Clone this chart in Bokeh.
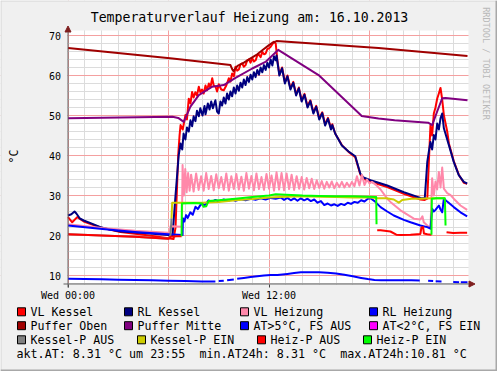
import math
from bokeh.plotting import figure
from bokeh.models import Range1d, FixedTicker, Label, BoxAnnotation, Arrow, NormalHead
from bokeh.embed import file_html
from bokeh.resources import INLINE

nan = float("nan")

# ---------------- data (hours since 00:00, degrees C) ----------------
title_text = "Temperaturverlauf Heizung am: 16.10.2013"
y_label = "°C"
x_tick_values = [0, 12]
x_tick_labels = ["Wed 00:00", "Wed 12:00"]
y_tick_values = [10, 20, 30, 40, 50, 60, 70]

vl_kessel_t = [0, 0.25, 0.55, 0.94, 1.94, 3.13, 4.5, 6.0, 6.3, 6.42, 6.58, 6.66, 6.72, 6.85, 7.01, 7.10, 7.21, 7.31, 7.41, 7.50,
               7.60, 7.70, 7.81, 7.90, 8.00, 8.10, 8.21, 8.30, 8.41, 8.50, 8.61, 8.70, 8.81, 8.90, 9.00, 9.15, 9.30, 9.45, 9.60, 9.70,
               9.80, 9.90, 10.00, 10.10, 10.20, 10.30, 10.40, 10.50, 10.60, 10.70, 10.80, 10.90, 11.00, 11.10, 11.20, 11.30, 11.40, 11.50, 11.60, 11.70,
               11.80, 11.90, 12.00, 12.10, 12.20, 12.29, 12.40, 12.45, 12.50, 12.62, 12.78, 12.95, 13.10, 13.28, 13.45, 13.62, 13.78, 13.95, 14.12, 14.30,
               14.47, 14.65, 14.82, 15.00, 15.18, 15.35, 15.52, 15.70, 15.78, 15.95, 16.35, 16.75, 17.15, 17.45, 17.64, 18.06, 18.54, 19.06, 20.05, 21.04,
               21.30, 21.45, 21.54, 21.64, 21.74, 21.84, 21.94, 22.04, 22.14, 22.24, 22.34, 22.44, 22.64, 22.74, 23.03, 23.33, 23.63, 23.83]
vl_kessel_v = [24.6, 23.3, 24.6, 23.5, 22.0, 20.9, 20.2, 19.3, 19.1, 22.0, 40.1, 45.0, 47.6, 46.5, 50.1, 49.0, 54.2, 53.0, 55.9, 54.5,
               55.8, 55.0, 57.2, 55.8, 56.5, 55.5, 57.5, 56.3, 58.0, 57.0, 59.3, 57.5, 57.2, 56.0, 57.8, 56.5, 56.3, 57.5, 59.3, 58.5,
               60.5, 59.8, 62.2, 61.2, 61.5, 62.8, 63.0, 62.2, 62.6, 63.8, 64.0, 63.2, 64.3, 63.5, 63.8, 65.0, 65.2, 64.6, 65.9, 65.3,
               65.5, 66.6, 66.8, 67.2, 67.8, 68.4, 68.0, 66.0, 63.8, 60.3, 62.0, 58.3, 60.0, 56.8, 58.4, 55.3, 57.0, 53.8, 55.4, 52.3,
               53.8, 50.8, 52.4, 49.3, 50.8, 47.8, 49.4, 46.8, 47.8, 45.5, 42.6, 40.9, 39.6, 35.3, 34.2, 33.5, 32.8, 32.1, 30.4, 29.0,
               28.9, 29.2, 38.0, 47.5, 45.0, 50.5, 52.0, 54.2, 55.5, 56.9, 54.0, 50.1, 46.0, 43.0, 38.6, 35.2, 33.2, 32.9]

rl_kessel_t = [0, 0.2, 0.39, 0.5, 0.7, 0.94, 1.94, 2.5, 3.13, 4.5, 6.0, 6.24, 6.42, 6.61, 6.72,
               6.82, 6.90, 7.01, 7.10, 7.21, 7.31, 7.41, 7.50, 7.61, 7.70, 7.81, 7.90, 8.03, 8.15, 8.21, 8.35, 8.45, 8.55, 8.65, 8.80,
               8.90, 9.00, 9.10, 9.20, 9.30, 9.40, 9.50, 9.60, 9.70, 9.80, 9.90, 10.00, 10.10, 10.20, 10.30, 10.40, 10.50, 10.60, 10.70, 10.80,
               10.90, 11.00, 11.10, 11.20, 11.30, 11.40, 11.50, 11.60, 11.70, 11.80, 11.90, 12.00, 12.10, 12.20, 12.30, 12.40,
               12.45, 12.50, 12.62, 12.78, 12.95, 13.10, 13.28, 13.45, 13.62, 13.78, 13.95, 14.12, 14.30, 14.47, 14.65, 14.82, 15.00, 15.18,
               15.35, 15.52, 15.70, 15.78, 15.95, 16.35, 16.75, 17.15, 17.45, 17.64, 18.06, 18.54, 19.06, 20.05, 21.04, 21.30,
               21.45, 21.54, 21.64, 21.74, 21.84, 21.94, 22.04, 22.14, 22.24, 22.34, 22.44, 22.74, 23.03, 23.33, 23.63, 23.83]
rl_kessel_v = [25.0, 25.3, 26.0, 25.5, 24.3, 23.75, 22.1, 21.5, 21.0, 20.6, 20.1, 20.0, 30.1, 40.1, 43.0,
               41.5, 45.5, 44.0, 47.0, 46.0, 48.8, 47.3, 49.8, 48.6, 51.2, 49.8, 51.8, 50.0, 52.4, 50.3, 53.0, 51.5, 53.5, 51.8, 53.8,
               51.0, 50.5, 53.5, 52.5, 54.5, 53.0, 55.5, 54.0, 56.0, 54.8, 57.0, 55.5, 57.5, 56.2, 58.2, 57.0, 59.0, 57.6, 59.6, 58.4,
               60.2, 59.0, 60.8, 59.6, 61.4, 60.2, 62.0, 60.8, 62.6, 61.4, 63.2, 62.0, 64.0, 62.5, 64.8, 63.8,
               65.0, 63.5, 60.0, 61.8, 58.0, 59.8, 56.5, 58.2, 55.0, 56.8, 53.5, 55.2, 52.0, 53.6, 50.5, 52.2, 49.0, 50.6,
               47.5, 49.2, 46.5, 47.6, 45.5, 42.5, 41.0, 39.8, 35.5, 34.5, 33.8, 33.2, 32.5, 30.8, 29.4, 29.3,
               38.4, 40.9, 43.4, 41.5, 45.1, 44.0, 48.0, 46.5, 49.3, 50.5, 46.8, 42.6, 38.4, 35.1, 33.4, 33.0]

vl_heizung_t = [0, 2.0, 4.0, 6.0, 6.08, 6.12, 6.8, 6.84, 6.92, 7.0, 7.08, 7.17, 7.26,
                7.35, 7.50, 7.65, 7.80, 7.95, 8.10, 8.25, 8.40, 8.55, 8.70, 8.85, 9.00, 9.15, 9.30, 9.45, 9.60, 9.75, 9.90,
                10.05, 10.20, 10.35, 10.50, 10.65, 10.80, 10.95, 11.10, 11.25, 11.40, 11.55, 11.70, 11.85, 12.00, 12.15, 12.30,
                12.45, 12.60, 12.75, 12.90, 13.05, 13.20, 13.35, 13.50, 13.65, 13.80, 13.95, 14.10, 14.25, 14.40, 14.55, 14.70,
                14.85, 15.00, 15.15, 15.30, 15.45, 15.60, 15.75, 15.90, 16.05, 16.20, 16.35, 16.50, 16.65, 16.80, 16.95, 17.10,
                17.25, 17.40, 17.55, 17.70, 17.85, 18.00, 18.15,
                18.40, 18.66, 19.06, 19.25, 19.85, 20.65, 21.04, 21.16, 21.24, 21.45, 21.64, 21.74, 21.84, 21.94, 22.04, 22.14,
                22.24, 22.34, 22.44, 22.64, 22.84, 23.03, 23.43, 23.83]
vl_heizung_v = [22.8, 21.9, 21.2, 20.7, 20.6, 22.3, 22.2, 37.6, 30.0, 36.6, 30.8, 35.6, 31.2,
                35.2, 31.0, 35.5, 31.4, 34.8, 31.2, 35.6, 31.6, 34.9, 31.3, 35.3, 31.8, 34.6, 31.4, 35.5, 31.2, 34.8, 31.6,
                35.4, 31.5, 34.7, 31.2, 35.6, 31.7, 34.9, 31.3, 35.5, 31.6, 34.6, 31.4, 35.4, 31.7, 35.0, 31.2,
                35.8, 31.5, 35.6, 31.3, 35.5, 31.6, 35.2, 31.4, 34.8, 31.7, 34.6, 31.5, 34.4, 31.8, 34.2, 31.6,
                33.8, 31.9, 33.6, 31.7, 33.4, 32.0, 33.5, 31.8, 33.2, 32.1, 33.4, 32.0, 33.2, 32.2, 33.4, 32.3,
                34.8, 32.5, 35.2, 32.6, 34.0, 33.0, 33.4,
                32.6, 31.5, 29.2, 28.4, 26.3, 24.2, 24.0, 24.8, 23.3, 22.5, 21.8, 34.3, 30.0, 33.5, 31.5, 35.9,
                32.0, 37.0, 31.7, 30.6, 30.1, 29.2, 27.5, 26.4]

rl_heizung_t = [0, 2.06, 4.0, 6.0, 6.84, 6.86, 6.95, 7.05, 7.15, 7.3, 7.45, 7.61, 7.75, 7.9, 8.03, 8.15, 8.39, 8.6, 8.8, 9.0,
                9.3, 9.5, 9.8, 10.0, 10.3, 10.6, 10.9, 11.2, 11.5, 11.8, 12.1, 12.4, 12.7, 12.9, 13.1, 13.3, 13.5, 13.7, 13.9, 14.1,
                14.3, 14.5, 14.7, 14.9, 15.1, 15.3, 15.5, 15.7, 15.9, 16.1, 16.3, 16.5, 16.7, 16.9, 17.1, 17.3, 17.5, 17.7, 17.9, 18.06,
                18.3, 18.66, 19.06, 19.45, 20.05, 20.45, 21.04, 21.45, 21.64, 21.74, 21.84, 21.94, 22.14, 22.24, 22.34, 22.44, 22.6, 23.03, 23.43, 23.83]
rl_heizung_v = [22.5, 21.6, 20.9, 20.3, 20.1, 24.3, 23.5, 25.1, 24.4, 25.8, 25.2, 27.2, 26.6, 27.6, 28.0, 27.5, 28.8, 28.4, 28.9, 28.5,
                29.0, 28.6, 29.0, 28.7, 29.1, 28.8, 29.2, 28.9, 29.3, 29.0, 29.4, 29.2, 29.5, 28.9, 29.4, 28.8, 29.3, 28.7, 29.3, 28.8,
                29.2, 28.6, 29.0, 28.2, 28.6, 27.6, 28.0, 27.5, 27.8, 27.4, 27.9, 27.6, 28.2, 27.9, 28.4, 28.2, 28.8, 28.5, 29.2, 29.3,
                28.6, 27.1, 26.0, 25.0, 23.9, 23.3, 22.5, 22.1, 21.7, 26.7, 26.0, 26.4, 27.5, 26.5, 25.8, 29.2, 28.6, 27.1, 25.8, 24.8]

puffer_oben_t = [0, 6.24, 9.70, 9.80, 9.88, 10.0, 10.12, 10.5, 10.9, 11.3, 11.6, 12.0, 12.2, 12.45, 18.54, 23.85]
puffer_oben_v = [66.9, 64.25, 62.6, 61.6, 61.1, 61.8, 62.4, 63.2, 64.3, 65.3, 66.3, 67.6, 68.2, 68.6, 66.9, 64.9]

puffer_mitte_t = [0, 6.24, 6.58, 6.91, 7.31, 7.81, 8.61, 9.30, 10.0, 11.0, 11.79, 12.39, 12.55, 14.96, 17.46, 17.52, 18.54, 19.5, 21.5, 21.74, 22.04, 22.34, 22.54, 23.85]
puffer_mitte_v = [49.3, 49.7, 49.4, 48.4, 52.2, 55.1, 57.2, 57.6, 59.4, 61.75, 63.4, 65.75, 66.4, 60.1, 50.2, 49.9, 49.25, 48.8, 48.2, 47.6, 51.0, 54.3, 54.4, 53.8]

at_t = [0, 1, 2, 3, 4, 5, 6, 7, 8, 8.8, 8.9, 9.0, 9.3, 9.4, 9.5, 9.9, 10.0, 10.1, 10.5, 10.9, 11.3, 11.7, 12.1, 12.5, 13.1, 13.5,
        13.9, 14.5, 15.0, 15.5, 16.0, 16.5, 17.0, 17.5, 17.9, 18.3, 18.7, 19.5, 20.5, 21.0, 21.2, 21.5, 21.8, 21.9, 21.95, 22.3, 22.6,
        23.0, 23.35, 23.4, 23.45, 23.85]
at_v = [9.2, 9.1, 9.05, 8.95, 8.9, 8.8, 8.7, 8.6, 8.5, 8.5, nan, 8.6, 8.7, nan, 8.8, 9.0, nan, 9.2, 9.4, 9.6, 9.8, 10.0, 10.1, 10.1, 10.4, 10.6,
        10.8, 10.8, 10.8, 10.7, 10.5, 10.2, 9.8, 9.4, 9.1, 8.9, 8.8, 8.8, 8.8, 8.75, nan, 8.7, 8.6, nan, 8.55, 8.5, nan,
        8.35, 8.3, nan, 8.3, 8.3]

kessel_p_aus_t = [0, 2.0, 4.0, 6.0, 6.12, 6.18]
kessel_p_aus_v = [20.3, 20.0, 19.7, 19.2, 20.1, 24.3]
kessel_p_ein_t = [6.18, 6.22, 7.0, 8.0, 9.0, 10.0, 11.0, 12.0, 13.0, 14.0, 15.0, 16.0, 17.0, 18.0, 18.5, 19.0, 19.45, 19.75, 19.95, 20.5, 21.0, 21.7, 22.5]
kessel_p_ein_v = [24.3, 28.2, 28.2, 28.2, 28.4, 28.8, 29.1, 29.5, 29.7, 29.8, 29.7, 29.6, 29.5, 29.5, 29.3, 29.3, 29.0, 28.2, 28.9, 29.2, 29.2, 29.3, 29.3]

heiz_p_aus_t = [0, 2.0, 4.0, 6.0, 6.12, 6.5, 6.78, 12.0, 18.46, 18.66, 19.25, 19.6, 19.85, 20.45, 21.04, 21.1, 21.2, 21.25, 21.45, 21.7, 22.0, 22.6, 23.0, 23.4, 23.83]
heiz_p_aus_v = [20.3, 20.0, 19.7, 19.2, 19.7, 19.8, 19.8, nan, 21.3, 21.3, 21.0, 20.2, 20.1, 20.2, 20.4, 22.0, 22.1, 20.5, 20.3, 20.2, nan, 20.8, 20.6, 20.7, 20.7]
heiz_p_ein_t = [6.78, 6.8, 7.5, 8.0, 8.09, 8.25, 8.39, 9.0, 10.0, 11.0, 12.0, 12.4, 13.0, 14.0, 15.0, 16.0, 17.0, 18.0, 18.4, 18.42, 20.0, 21.70, 21.72, 22.0, 22.5, 22.54]
heiz_p_ein_v = [19.8, 28.0, 28.1, 28.0, 27.2, 27.3, 28.6, 28.8, 29.2, 29.6, 30.0, 30.3, 30.2, 30.0, 29.9, 29.8, 29.8, 29.7, 29.6, 22.8, nan, 20.2, 29.2, 29.3, 29.3, 22.5]

legend_labels = ["VL Kessel", "RL Kessel", "VL Heizung", "RL Heizung",
                 "Puffer Oben", "Puffer Mitte", "AT>5°C, FS AUS", "AT<2°C, FS EIN",
                 "Kessel-P AUS", "Kessel-P EIN", "Heiz-P AUS", "Heiz-P EIN"]
legend_colors = ["#ff0000", "#000080", "#ff88aa", "#0000ff",
                 "#a00000", "#800080", "#0000ff", "#ff00ff",
                 "#808080", "#cccc00", "#ff0000", "#00ff00"]
akt_at = 8.31
akt_time = "23:55"
min_at24 = 8.31
max_at24 = 10.81

# ---------------- layout (pixel geometry of the image) ----------------
FONT = "DejaVu Sans Mono"
BG = "#f0f0f0"
W, H = 497, 371
PX_PER_H = 16.75        # pixels per hour
PX_PER_DEG = 4.0        # pixels per degree
T0_PX = 67.5            # page x of 00:00
V70_PY = 35.0           # page y of 70 degC
AREA_L, AREA_R, AREA_T, AREA_B = 67, 468, 30, 284   # graph area in page pixels
NB = "\u00a0"


def tx(px):
    return (px - T0_PX) / PX_PER_H


def vy(py):
    return 70.0 - (py - V70_PY) / PX_PER_DEG


def sx(px):
    return px


def sy(py):
    return H - py


p = figure(width=W, height=H, x_range=Range1d(tx(0), tx(W)), y_range=Range1d(vy(H), vy(0)),
           output_backend="svg", toolbar_location=None, title=None,
           min_border_left=0, min_border_right=0, min_border_top=0, min_border_bottom=0)
p.background_fill_color = "#ffffff"
p.border_fill_color = BG
p.outline_line_color = None

p.xgrid.ticker = FixedTicker(ticks=[0, 6, 12, 18], minor_ticks=list(range(0, 24)))
p.ygrid.ticker = FixedTicker(ticks=y_tick_values, minor_ticks=list(range(8, 72, 2)))
for g in (p.xgrid, p.ygrid):
    g.grid_line_color = "#f4a0a0"
    g.grid_line_width = 1
    g.minor_grid_line_color = "#dcdcdc"
    g.minor_grid_line_width = 1

# axes pinned to the graph area's edges
p.xaxis.fixed_location = vy(AREA_B)
p.yaxis.fixed_location = 0
p.xaxis.ticker = FixedTicker(ticks=x_tick_values, minor_ticks=[])
p.xaxis.major_label_overrides = {v: s for v, s in zip(x_tick_values, x_tick_labels)}
p.xaxis.axis_line_color = None
p.xaxis.major_tick_in = 0
p.xaxis.major_tick_out = 3
p.xaxis.major_tick_line_color = "#404040"
p.xaxis.minor_tick_line_color = None
p.xaxis.major_label_standoff = 2
p.yaxis.ticker = FixedTicker(ticks=y_tick_values, minor_ticks=[])
p.yaxis.axis_line_color = None
p.yaxis.major_tick_in = 0
p.yaxis.major_tick_out = 0
p.yaxis.major_tick_line_color = None
p.yaxis.minor_tick_line_color = None
p.yaxis.major_label_standoff = 7
for ax in (p.xaxis, p.yaxis):
    ax.major_label_text_font = FONT
    ax.major_label_text_font_size = "10px"
    ax.major_label_text_color = "#000000"

# grey surround outside the graph area (covers the grid there)
p.quad(left=[tx(0), tx(AREA_R), tx(0), tx(0)],
       right=[tx(AREA_L), tx(W), tx(W), tx(W)],
       bottom=[vy(H), vy(H), vy(AREA_T), vy(H)],
       top=[vy(0), vy(0), vy(0), vy(AREA_B)],
       fill_color=BG, line_color=None)

# ---------------- series (drawn in RRD order) ----------------
series = [
    (vl_kessel_t, vl_kessel_v, legend_colors[0]),
    (rl_kessel_t, rl_kessel_v, legend_colors[1]),
    (vl_heizung_t, vl_heizung_v, legend_colors[2]),
    (rl_heizung_t, rl_heizung_v, legend_colors[3]),
    (puffer_oben_t, puffer_oben_v, legend_colors[4]),
    (puffer_mitte_t, puffer_mitte_v, legend_colors[5]),
    (at_t, at_v, legend_colors[6]),
    (kessel_p_aus_t, kessel_p_aus_v, legend_colors[8]),
    (kessel_p_ein_t, kessel_p_ein_v, legend_colors[9]),
    (heiz_p_aus_t, heiz_p_aus_v, legend_colors[10]),
    (heiz_p_ein_t, heiz_p_ein_v, legend_colors[11]),
]
for t, v, c in series:
    p.line(t, v, line_color=c, line_width=2, line_join="round")

# ---------------- axis lines with arrows ----------------
p.add_layout(Arrow(end=NormalHead(size=6, fill_color="#7f1f1f", line_color="#7f1f1f"),
                   x_start=sx(67.5), y_start=sy(287), x_end=sx(67.5), y_end=sy(25.5),
                   start_units="screen", end_units="screen", line_color="#606060", line_width=1))
p.add_layout(Arrow(end=NormalHead(size=6, fill_color="#7f1f1f", line_color="#7f1f1f"),
                   x_start=sx(63), y_start=sy(283.5), x_end=sx(474.5), y_end=sy(283.5),
                   start_units="screen", end_units="screen", line_color="#606060", line_width=1))

# ---------------- texts ----------------
p.add_layout(Label(x=sx(249), y=sy(17), x_units="screen", y_units="screen", text=title_text,
                   text_font=FONT, text_font_size="13.2px", text_align="center", text_baseline="middle",
                   text_color="#000000"))
p.add_layout(Label(x=sx(13.5), y=sy(156), x_units="screen", y_units="screen", text=y_label,
                   text_font=FONT, text_font_size="11.6px", text_align="center", text_baseline="middle",
                   angle=math.pi / 2, text_color="#000000"))
p.add_layout(Label(x=sx(485), y=sy(63), x_units="screen", y_units="screen", text="RRDTOOL / TOBI OETIKER",
                   text_font=FONT, text_font_size="8.5px", text_align="center", text_baseline="middle",
                   angle=-math.pi / 2, text_color="#b8b8b8"))

row_y = [311.3, 325.2, 339.3]
col_x = [[17, 124, 240, 369], [17, 124, 240, 369], [17, 137, 257, 363]]
for i, (lab, col) in enumerate(zip(legend_labels, legend_colors)):
    r, c = divmod(i, 4)
    x_left = col_x[r][c]
    yc = row_y[r]
    p.add_layout(BoxAnnotation(left=sx(x_left), right=sx(x_left + 8), top=sy(yc - 4), bottom=sy(yc + 4),
                               left_units="screen", right_units="screen", top_units="screen", bottom_units="screen",
                               fill_color=col, fill_alpha=1.0, line_color="#000000", line_width=1, line_alpha=1.0))
    p.add_layout(Label(x=sx(x_left + 13), y=sy(yc), x_units="screen", y_units="screen", text=lab,
                       text_font=FONT, text_font_size="11.6px", text_align="left", text_baseline="middle",
                       text_color="#000000"))

footer = (f"akt.AT:{akt_at:5.2f} °C um {akt_time}{NB}{NB}"
          f"min.AT24h:{min_at24:5.2f} °C{NB}{NB}max.AT24h:{max_at24:5.2f} °C")
p.add_layout(Label(x=sx(16), y=sy(353.2), x_units="screen", y_units="screen", text=footer,
                   text_font=FONT, text_font_size="11.7px", text_align="left", text_baseline="middle",
                   text_color="#000000"))

# outer shading of the image frame
for l, r, t, b, c in [(0, W, 0, 1, "#d4d4d4"), (0, 1, 0, H, "#d4d4d4"),
                      (W - 2, W, 0, H, "#a8a8a8"), (0, W, H - 2, H, "#a8a8a8")]:
    p.add_layout(BoxAnnotation(left=sx(l), right=sx(r), top=sy(t), bottom=sy(b),
                               left_units="screen", right_units="screen", top_units="screen", bottom_units="screen",
                               fill_color=c, fill_alpha=1.0, line_color=None))

open("out.html", "w").write(file_html(p, INLINE))
